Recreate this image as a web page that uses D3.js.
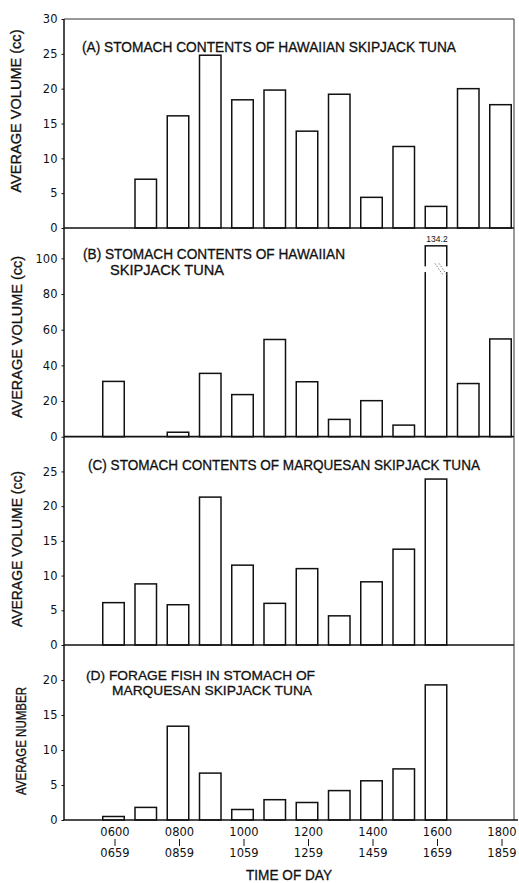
<!DOCTYPE html>
<html><head><meta charset="utf-8">
<script src="https://cdn.jsdelivr.net/npm/d3@7"></script>
<style>
body{margin:0;background:#fff}
svg{display:block}
text{fill:#111}
</style></head>
<body><svg id="c" width="519" height="883"></svg>
<script>
// ---- data ----
const hours = ["0600","0700","0800","0900","1000","1100","1200","1300","1400","1500","1600","1700","1800"];
const tickStarts = ["0600","0800","1000","1200","1400","1600","1800"];
const tickEnds   = ["0659","0859","1059","1259","1459","1659","1859"];
const volHawaiianA  = [null, 7.0, 16.1, 24.8, 18.4, 19.8, 13.9, 19.2, 4.4, 11.7, 3.1, 20.0, 17.7];
const volHawaiianB  = [31.0, null, 2.5, 35.5, 23.6, 54.5, 30.8, 9.7, 20.2, 6.5, 134.2, 29.8, 54.8];
const volMarquesanC = [6.1, 8.8, 5.8, 21.3, 11.5, 6.0, 11.0, 4.2, 9.1, 13.8, 23.9, null, null];
const forageFishD   = [0.5, 1.8, 13.4, 6.7, 1.5, 2.9, 2.5, 4.2, 5.6, 7.3, 19.3, null, null];
const titlesA = ["(A) STOMACH CONTENTS OF HAWAIIAN SKIPJACK TUNA"];
const titlesB = ["(B) STOMACH CONTENTS OF HAWAIIAN", "SKIPJACK TUNA"];
const titlesC = ["(C) STOMACH CONTENTS OF MARQUESAN SKIPJACK TUNA"];
const titlesD = ["(D) FORAGE FISH IN STOMACH OF", "MARQUESAN SKIPJACK TUNA"];
const ticksA = [0,5,10,15,20,25,30];
const ticksB = [0,20,40,60,80,100];
const ticksC = [0,5,10,15,20,25];
const ticksD = [0,5,10,15,20];
const brokenLabel = "134.2";

// ---- layout ----
const svg = d3.select("#c");
const L = 64, R = 514;
const FONT = "'Liberation Sans', Arial, sans-serif";
const NUMFONT = "'DejaVu Sans', sans-serif";
const TS = 14;
const x = d3.scalePoint().domain(hours).range([113.5, 500.5]);
const barW = 21.5;

function heavy(sel) {
  return sel.attr("stroke", "#111").attr("stroke-width", 0.3);
}

const panels = [
  {vals: volHawaiianA, top: 19, bottom: 228, max: 30, ticks: ticksA, titles: titlesA,
   tx: [82], ty: [52], tw: [374], ylabel: "AVERAGE VOLUME (cc)", ly: 111, lx: 21, lw: 163, drawTop: true, fs: TS},
  {vals: volHawaiianB, top: 228, bottom: 436.7, max: 117, ticks: ticksB, titles: titlesB,
   tx: [83, 110], ty: [259, 274.5], tw: [262, 114], ylabel: "AVERAGE VOLUME (cc)", ly: 337, lx: 22, lw: 162, cap: 107, fs: TS},
  {vals: volMarquesanC, top: 436.7, bottom: 645, max: 30, ticks: ticksC, titles: titlesC,
   tx: [88], ty: [469.5], tw: [392], ylabel: "AVERAGE VOLUME (cc)", ly: 549, lx: 22, lw: 156, fs: TS},
  {vals: forageFishD, top: 645, bottom: 820, max: 25, ticks: ticksD, titles: titlesD,
   tx: [86, 112], ty: [679.5, 695], tw: [229, 200], ylabel: "AVERAGE NUMBER", ly: 741, lx: 26, lw: 108, fs: 13.5}
];

panels.forEach((p, pi) => {
  const y = d3.scaleLinear().domain([0, p.max]).range([p.bottom, p.top]);
  const g = svg.append("g");

  // bars
  hours.forEach((h, i) => {
    const v = p.vals[i];
    if (v == null) return;
    const shown = p.cap && v > p.cap ? p.cap : v;
    g.append("rect")
      .attr("x", x(h) - barW / 2).attr("y", y(shown))
      .attr("width", barW).attr("height", y(0) - y(shown))
      .attr("fill", "#fff").attr("stroke", "#111").attr("stroke-width", 1.5);
    if (p.cap && v > p.cap) {
      // break in the bar
      const yb1 = y(95.5), yb2 = y(92.3);
      g.append("rect").attr("x", x(h) - barW / 2 - 2).attr("y", yb1)
        .attr("width", barW + 4).attr("height", yb2 - yb1).attr("fill", "#fff");
      [0, 4].forEach(off => {
        g.append("line")
          .attr("x1", x(h) - 1 + off).attr("y1", yb1 - 3)
          .attr("x2", x(h) + 7 + off).attr("y2", yb2 + 3)
          .attr("stroke", "#777").attr("stroke-width", 0.9).attr("stroke-dasharray", "1.5,1.5");
      });
      g.append("text").attr("x", x(h) + 1).attr("y", y(shown) - 4)
        .attr("text-anchor", "middle").attr("font-family", FONT).attr("font-size", 8.5)
        .text(brokenLabel);
    }
  });

  // frame: left axis, right border, baseline, top (for A)
  g.append("line").attr("x1", L).attr("x2", L).attr("y1", p.top).attr("y2", p.bottom)
    .attr("stroke", "#111").attr("stroke-width", 1.5);
  g.append("line").attr("x1", R).attr("x2", R).attr("y1", p.top).attr("y2", p.bottom)
    .attr("stroke", "#333").attr("stroke-width", 1);
  g.append("line").attr("x1", L).attr("x2", pi === 3 ? 518 : R).attr("y1", p.bottom).attr("y2", p.bottom)
    .attr("stroke", "#111").attr("stroke-width", 1.7);
  if (p.drawTop) {
    g.append("line").attr("x1", L).attr("x2", R).attr("y1", p.top).attr("y2", p.top)
      .attr("stroke", "#333").attr("stroke-width", 1.2);
  }

  // y axis ticks
  const ax = d3.axisLeft(y).tickValues(p.ticks).tickSize(2.5).tickPadding(4).tickFormat(d3.format("d"));
  const axg = g.append("g").attr("transform", `translate(${L},0)`).call(ax);
  axg.select(".domain").remove();
  axg.selectAll("line").attr("stroke", "#111");
  axg.selectAll("text").attr("font-family", NUMFONT).attr("font-size", 11.5).attr("fill", "#111");

  // titles
  p.titles.forEach((t, k) => {
    heavy(g.append("text").attr("x", p.tx[k]).attr("y", p.ty[k])
      .attr("font-family", FONT).attr("font-size", p.fs)
      .attr("textLength", p.tw[k]).attr("lengthAdjust", "spacingAndGlyphs")
      .text(t));
  });

  // y label
  heavy(g.append("text")
    .attr("transform", `translate(${p.lx},${p.ly}) rotate(-90)`)
    .attr("text-anchor", "middle").attr("font-family", FONT).attr("font-size", TS)
    .attr("textLength", p.lw).attr("lengthAdjust", "spacingAndGlyphs")
    .text(p.ylabel));
});

// x axis labels
const xg = svg.append("g");
tickStarts.forEach((h, i) => {
  const cx = x(h) + 1.5;
  xg.append("text").attr("x", cx).attr("y", 836).attr("text-anchor", "middle")
    .attr("font-family", NUMFONT).attr("font-size", 11.5).text(h);
  xg.append("line").attr("x1", cx).attr("x2", cx).attr("y1", 839).attr("y2", 846)
    .attr("stroke", "#111").attr("stroke-width", 1);
  xg.append("text").attr("x", cx).attr("y", 857).attr("text-anchor", "middle")
    .attr("font-family", NUMFONT).attr("font-size", 11.5).text(tickEnds[i]);
});
heavy(svg.append("text").attr("x", 289).attr("y", 879.5).attr("text-anchor", "middle")
  .attr("font-family", FONT).attr("font-size", TS).attr("textLength", 86).attr("lengthAdjust", "spacingAndGlyphs")
  .text("TIME OF DAY"));
</script>
</body></html>
